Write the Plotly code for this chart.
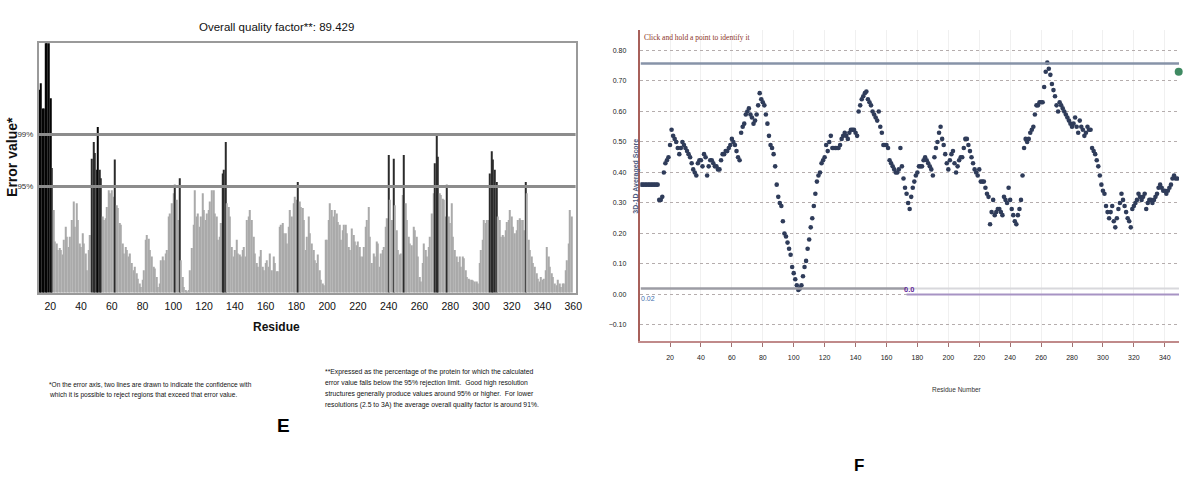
import plotly.graph_objects as go

W, H = 1186, 480

# ---------------- Panel E : ERRAT ----------------
errat_first_residue = 13
errat_values = [
    21.8, 22.5, 19.8, 19.8, 30.0, 30.0, 30.0, 20.9, 13.4,
    8.9, 5.5, 5.3, 4.6, 4.8, 4.6, 4.1, 5.7, 7.1, 6.0,
    4.9, 6.0, 7.8, 9.8, 7.1, 9.6, 7.8, 5.3, 4.9, 6.4,
    5.3, 4.2, 2.4, 4.6, 6.2, 14.4, 16.2, 15.0, 13.2, 17.8,
    13.2, 12.3, 8.2, 7.8, 8.0, 9.2, 11.0, 10.7, 11.0, 10.3,
    14.3, 9.4, 9.1, 7.5, 7.3, 5.3, 4.2, 4.9, 4.6, 3.9,
    4.2, 3.2, 2.4, 2.8, 2.1, 1.5, 1.0, 0.6, 1.4, 2.4,
    5.7, 6.2, 5.8, 4.6, 3.9, 2.8, 2.6, 1.7, 0.6, 1.0,
    3.5, 3.9, 3.5, 4.2, 4.6, 8.2, 8.5, 9.6, 10.7, 11.6,
    10.0, 7.8, 12.3, 3.5, 1.7, 0.6, 0.3, 0.1, 0.3, 2.4,
    4.8, 7.3, 11.0, 8.2, 8.5, 7.1, 8.2, 10.7, 8.9, 7.8,
    8.5, 8.9, 9.8, 11.0, 11.0, 8.5, 8.2, 5.7, 6.0, 7.5,
    12.8, 13.2, 16.2, 9.6, 9.2, 8.2, 4.9, 3.9, 4.6, 5.7,
    4.2, 4.1, 3.9, 4.6, 4.9, 3.9, 7.8, 8.2, 8.9, 7.8,
    6.0, 4.2, 3.2, 2.8, 3.9, 4.6, 2.8, 2.4, 3.2, 3.5,
    2.8, 4.2, 2.4, 3.9, 3.2, 2.3, 2.3, 7.1, 7.3, 7.5,
    6.4, 6.4, 5.3, 7.1, 8.9, 8.2, 9.6, 10.3, 10.0, 11.9,
    9.8, 9.2, 9.1, 7.8, 4.6, 6.0, 8.2, 6.4, 5.3, 4.6,
    3.5, 3.2, 4.1, 2.4, 1.4, 1.0, 0.8, 5.7, 5.7, 7.8,
    9.6, 8.9, 8.2, 8.9, 8.5, 7.6, 7.3, 5.7, 6.7, 7.3,
    7.3, 6.4, 4.9, 4.6, 6.9, 6.2, 5.5, 5.1, 5.5, 4.9,
    3.9, 3.9, 4.9, 7.1, 7.8, 9.2, 6.0, 3.2, 4.2, 3.9,
    5.5, 5.3, 2.8, 4.2, 4.6, 4.9, 7.1, 8.0, 14.8, 10.0,
    7.8, 14.4, 9.4, 6.7, 4.6, 4.1, 4.2, 10.5, 14.8, 9.6,
    7.8, 6.0, 5.3, 5.1, 7.1, 6.7, 6.0, 3.9, 1.7, 1.2,
    3.2, 5.3, 4.6, 3.9, 4.9, 6.0, 8.5, 10.7, 13.9, 17.0,
    14.6, 10.7, 10.5, 10.1, 10.0, 8.2, 11.6, 8.2, 7.5, 9.6,
    6.0, 4.6, 3.9, 3.3, 3.9, 2.8, 3.9, 3.7, 2.4, 1.7,
    1.5, 1.4, 1.4, 1.3, 1.2, 1.2, 1.0, 3.2, 4.6, 5.7,
    7.8, 7.5, 7.8, 7.8, 12.8, 15.2, 14.3, 13.2, 11.9, 8.2,
    7.8, 6.0, 6.2, 6.0, 6.7, 7.6, 7.8, 8.9, 8.2, 7.1,
    6.4, 6.7, 7.8, 8.0, 7.8, 7.8, 6.7, 11.9, 10.7, 5.7,
    4.6, 3.9, 3.2, 2.8, 2.1, 1.5, 1.2, 1.7, 1.4, 1.5,
    2.4, 4.9, 3.9, 2.8, 2.1, 1.7, 1.0, 0.8, 1.4, 1.0,
    0.6, 1.0, 1.0, 2.4, 3.5, 5.3, 8.9, 8.2,
]
errat_residues = list(range(errat_first_residue, errat_first_residue + len(errat_values)))
errat_limit_95 = 11.4
errat_limit_99 = 17.0
errat_xticks = [20, 40, 60, 80, 100, 120, 140, 160, 180, 200, 220, 240, 260, 280, 300, 320, 340, 360]
errat_ytick_labels = ["95%", "99%"]
errat_title = "Overall quality factor**: 89.429"
errat_note_left = [
    "*On the error axis, two lines are drawn to indicate the confidence with",
    "which it is possible to reject regions that exceed that error value.",
]
errat_note_right = [
    "**Expressed as the percentage of the protein for which the calculated",
    "error value falls below the 95% rejection limit.  Good high resolution",
    "structures generally produce values around 95% or higher.  For lower",
    "resolutions (2.5 to 3A) the average overall quality factor is around 91%.",
]

# ---------------- Panel F : Verify3D ----------------
v3d_first_residue = 1
v3d_scores = [
    0.36, 0.36, 0.36, 0.36, 0.36, 0.36, 0.36, 0.36, 0.36, 0.36,
    0.36, 0.36, 0.31, 0.31, 0.32, 0.40, 0.43, 0.44, 0.45, 0.49,
    0.54, 0.52, 0.51, 0.50, 0.48, 0.46, 0.48, 0.50, 0.49, 0.48,
    0.47, 0.46, 0.45, 0.43, 0.41, 0.40, 0.39, 0.43, 0.44, 0.44,
    0.42, 0.46, 0.45, 0.39, 0.42, 0.44, 0.44, 0.43, 0.42, 0.42,
    0.41, 0.41, 0.44, 0.46, 0.46, 0.47, 0.47, 0.48, 0.49, 0.51,
    0.50, 0.49, 0.47, 0.45, 0.44, 0.53, 0.55, 0.56, 0.59, 0.60,
    0.61, 0.59, 0.58, 0.56, 0.57, 0.59, 0.62, 0.66, 0.64, 0.63,
    0.62, 0.59, 0.56, 0.52, 0.49, 0.48, 0.46, 0.42, 0.36, 0.32,
    0.30, 0.29, 0.24, 0.20, 0.19, 0.17, 0.15, 0.13, 0.09, 0.07,
    0.05, 0.03, 0.015, 0.02, 0.03, 0.06, 0.09, 0.11, 0.15, 0.18,
    0.22, 0.25, 0.29, 0.33, 0.37, 0.39, 0.40, 0.43, 0.44, 0.45,
    0.49, 0.47, 0.50, 0.52, 0.48, 0.48, 0.48, 0.48, 0.48, 0.49,
    0.51, 0.52, 0.53, 0.52, 0.51, 0.53, 0.54, 0.54, 0.54, 0.53,
    0.52, 0.60, 0.62, 0.64, 0.65, 0.66, 0.665, 0.64, 0.63, 0.62,
    0.60, 0.59, 0.58, 0.57, 0.60, 0.55, 0.53, 0.49, 0.49, 0.49,
    0.48, 0.44, 0.43, 0.42, 0.41, 0.40, 0.40, 0.41, 0.48, 0.42,
    0.38, 0.35, 0.33, 0.30, 0.28, 0.32, 0.35, 0.37, 0.39, 0.40,
    0.42, 0.42, 0.42, 0.44, 0.45, 0.44, 0.43, 0.42, 0.41, 0.39,
    0.45, 0.48, 0.50, 0.53, 0.55, 0.51, 0.49, 0.46, 0.43, 0.41,
    0.44, 0.46, 0.47, 0.43, 0.40, 0.42, 0.44, 0.45, 0.45, 0.48,
    0.51, 0.51, 0.49, 0.47, 0.45, 0.43, 0.41, 0.40, 0.39, 0.41,
    0.37, 0.37, 0.37, 0.35, 0.33, 0.32, 0.23, 0.27, 0.31, 0.26,
    0.27, 0.28, 0.28, 0.27, 0.26, 0.32, 0.31, 0.30, 0.35, 0.31,
    0.28, 0.26, 0.24, 0.23, 0.26, 0.28, 0.31, 0.39, 0.48, 0.51,
    0.50, 0.51, 0.53, 0.54, 0.55, 0.59, 0.62, 0.62, 0.63, 0.63,
    0.63, 0.68, 0.73, 0.76, 0.74, 0.72, 0.69, 0.67, 0.65, 0.62,
    0.60, 0.63, 0.62, 0.61, 0.60, 0.59, 0.58, 0.57, 0.56, 0.55,
    0.56, 0.58, 0.55, 0.53, 0.57, 0.55, 0.54, 0.52, 0.53, 0.55,
    0.54, 0.54, 0.48, 0.47, 0.46, 0.44, 0.42, 0.39, 0.36, 0.34,
    0.33, 0.29, 0.27, 0.25, 0.27, 0.29, 0.24, 0.22, 0.25, 0.28,
    0.30, 0.33, 0.31, 0.29, 0.27, 0.25, 0.24, 0.22, 0.28, 0.29,
    0.30, 0.31, 0.33, 0.32, 0.31, 0.32, 0.33, 0.28, 0.30, 0.31,
    0.31, 0.30, 0.31, 0.32, 0.33, 0.35, 0.36, 0.35, 0.34, 0.34,
    0.33, 0.34, 0.35, 0.36, 0.38, 0.39, 0.38, 0.38,
]
v3d_residues = list(range(v3d_first_residue, v3d_first_residue + len(v3d_scores)))
v3d_xticks = [20, 40, 60, 80, 100, 120, 140, 160, 180, 200, 220, 240, 260, 280, 300, 320, 340]
v3d_yticks = [-0.10, 0.00, 0.10, 0.20, 0.30, 0.40, 0.50, 0.60, 0.70, 0.80]
v3d_max_line = 0.757
v3d_low_line = 0.02
v3d_zero_line = 0.0
v3d_split_residue = 173
v3d_marker_residue = 349
v3d_marker_score = 0.73

SANS = "Liberation Sans, Arial, sans-serif"
SERIF = "Liberation Serif, Times New Roman, serif"


def px(x):
    return x / W


def py(y):
    return 1 - y / H


def label(x, y, text, size, color="#111", family=SANS, weight="normal", angle=0, xanchor="center"):
    return dict(x=px(x), y=py(y), xref="paper", yref="paper", text=text, showarrow=False,
                xanchor=xanchor, yanchor="middle", textangle=angle,
                font=dict(family=family, size=size, color=color, weight=weight))


bar_colors = []
for v in errat_values:
    if v > errat_limit_99:
        bar_colors.append("#050505")
    elif v > errat_limit_95:
        bar_colors.append("#2b2b2b")
    else:
        bar_colors.append("#aaaaaa")

fig = go.Figure()

fig.add_trace(go.Bar(
    x=errat_residues, y=errat_values, marker_color=bar_colors,
    marker_line_width=0, xaxis="x", yaxis="y", hoverinfo="x+y",
))

fig.add_trace(go.Scatter(
    x=v3d_residues, y=v3d_scores, mode="markers",
    marker=dict(size=4.6, color="#2f3c5a"),
    xaxis="x2", yaxis="y2",
))
fig.add_trace(go.Scatter(
    x=[v3d_marker_residue], y=[v3d_marker_score], mode="markers",
    marker=dict(size=8, color="#3f8a62"), cliponaxis=False,
    xaxis="x2", yaxis="y2",
))

x_lo, x_hi = 0.9, 349.2
shapes = [
    dict(type="line", xref="x domain", yref="y", x0=0, x1=1, y0=errat_limit_99, y1=errat_limit_99,
         line=dict(color="#8c8c8c", width=3)),
    dict(type="line", xref="x domain", yref="y", x0=0, x1=1, y0=errat_limit_95, y1=errat_limit_95,
         line=dict(color="#8c8c8c", width=3)),
    dict(type="line", xref="x2", yref="y2", x0=x_lo, x1=x_hi, y0=v3d_max_line, y1=v3d_max_line,
         line=dict(color="#8793a8", width=2.5)),
    dict(type="line", xref="x2", yref="y2", x0=x_lo, x1=v3d_split_residue, y0=v3d_low_line, y1=v3d_low_line,
         line=dict(color="#9c9ca4", width=2.5)),
    dict(type="line", xref="x2", yref="y2", x0=v3d_split_residue, x1=x_hi, y0=v3d_low_line, y1=v3d_low_line,
         line=dict(color="#d8d8dc", width=2)),
    dict(type="line", xref="x2", yref="y2", x0=v3d_split_residue, x1=x_hi, y0=v3d_zero_line, y1=v3d_zero_line,
         line=dict(color="#a793c4", width=2)),
]

annotations = [
    label(278, 27, errat_title, 11.5),
    label(12, 157, "Error value*", 14, weight="bold", angle=-90),
    label(278, 327, "Residue", 12, weight="bold"),
    label(285, 425, "E", 19, color="#000", weight="bold"),
    label(864, 465, "F", 17, color="#000", weight="bold"),
    label(646, 37.5, "Click and hold a point to identify it", 7.5, color="#8b3324", family=SERIF,
          xanchor="left"),
    label(639.5, 176, "3D-1D Averaged Score", 7, color="#4b5a80", weight="bold", angle=-90),
    label(963, 389, "Residue Number", 6.5, color="#333"),
    label(652, 298.5, "0.02", 7, color="#3f6fae"),
    label(914, 289, "0.0", 7.5, color="#62289a", weight="bold"),
]
for i, line in enumerate(errat_note_left):
    annotations.append(label(47, 384 + 11 * i, line, 6.6, xanchor="left"))
for i, line in enumerate(errat_note_right):
    annotations.append(label(325, 371.5 + 11 * i, line, 6.8, xanchor="left"))

fig.update_layout(
    width=W, height=H, autosize=False,
    margin=dict(l=0, r=0, t=0, b=0, pad=0),
    paper_bgcolor="white", plot_bgcolor="white",
    showlegend=False, bargap=0.3,
    shapes=shapes, annotations=annotations,
    xaxis=dict(
        domain=[px(39), px(579)], range=[12.5, 361.5], anchor="y",
        tickvals=errat_xticks, ticks="", showgrid=False, zeroline=False,
        showline=True, mirror=True, linecolor="#9a9a9a", linewidth=1.5,
        tickfont=dict(family=SANS, size=10.5, color="#111"),
        ticklabelstandoff=3,
    ),
    yaxis=dict(
        domain=[py(292.7), py(43.3)], range=[0, 26.8], anchor="x",
        tickvals=[errat_limit_95, errat_limit_99], ticktext=errat_ytick_labels,
        ticks="", showgrid=False, zeroline=False,
        showline=True, mirror=True, linecolor="#9a9a9a", linewidth=1.5,
        tickfont=dict(family=SANS, size=8, color="#333"),
        ticklabelstandoff=2,
    ),
    xaxis2=dict(
        domain=[px(644.3), 1.0], range=[x_lo, x_hi], anchor="y2",
        tickvals=v3d_xticks, ticks="outside", ticklen=4, tickcolor="#a07070",
        showgrid=True, gridcolor="#f0f0f0", gridwidth=1, zeroline=False,
        showline=True, linecolor="#c08a8a", linewidth=2,
        tickfont=dict(family=SANS, size=7, color="#222"),
        ticklabelstandoff=5,
    ),
    yaxis2=dict(
        domain=[py(341), py(30)], range=[-0.1525, 0.867], anchor="x2",
        tickvals=v3d_yticks, tickformat=".2f", ticks="",
        showgrid=True, gridcolor="#b5adad", griddash="dot", gridwidth=1, zeroline=False,
        showline=True, linecolor="#a8605a", linewidth=1.5,
        tickfont=dict(family=SANS, size=7, color="#222"),
        ticklabelstandoff=11,
    ),
)

fig.write_html(
    "out.html",
    config={"displayModeBar": False},
    post_script="document.body.style.margin='0px';document.body.style.padding='0px';",
)
